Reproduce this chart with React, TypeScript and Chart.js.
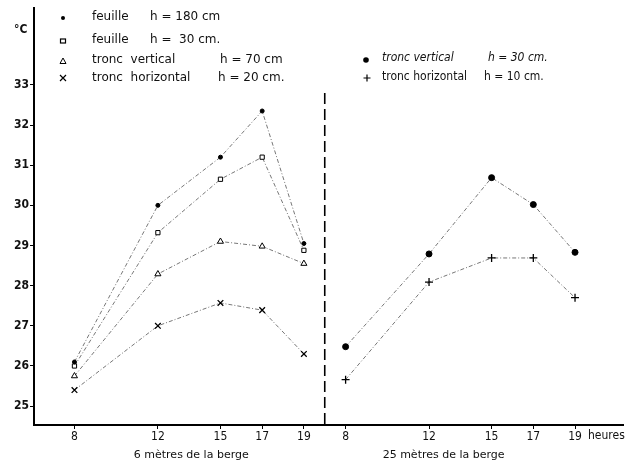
import React, { useEffect, useRef } from 'react';
import { Chart, registerables } from 'chart.js';

Chart.register(...registerables);

// hours of measurement
const hours = [8, 12, 15, 17, 19];
// offset used to place the second panel (25 m) on the shared horizontal axis
const rightOffset = 13;
const dividerAt = 20;

// 6 mètres de la berge
const feuille180 = [26.1, 30.0, 31.2, 32.35, 29.05];
const feuille30 = [26.0, 29.32, 30.65, 31.2, 28.88];
const troncVertical70 = [25.75, 28.29, 29.1, 28.98, 28.55];
const troncHorizontal20 = [25.4, 27.0, 27.57, 27.39, 26.3];

// 25 mètres de la berge
const troncVertical30 = [26.48, 28.79, 30.69, 30.02, 28.83];
const troncHorizontal10 = [25.66, 28.09, 28.69, 28.69, 27.7];

const yTicks = [25, 26, 27, 28, 29, 30, 31, 32, 33];

const FONT = '"DejaVu Sans Condensed", "DejaVu Sans", sans-serif';
const FONT_W = '"DejaVu Sans", sans-serif';

const toPts = (vals: number[], off: number) => vals.map((v, i) => ({ x: hours[i] + off, y: v }));

const lineStyle = {
  borderColor: '#777',
  borderWidth: 1,
  borderDash: [4, 2, 1, 2],
  pointBorderColor: '#000',
  pointBorderWidth: 1,
  showLine: true,
  fill: false,
  tension: 0,
};

export default function App() {
  const ref = useRef<HTMLCanvasElement | null>(null);

  useEffect(() => {
    document.body.style.margin = '0';
    const canvas = ref.current;
    if (!canvas) return;

    const overlay = {
      id: 'overlay',
      afterDraw(chart: any) {
        const ctx = chart.ctx;
        const xs = chart.scales.x;
        const ys = chart.scales.y;
        const area = chart.chartArea;
        ctx.save();
        // divider
        const dx = xs.getPixelForValue(dividerAt);
        ctx.strokeStyle = '#000';
        ctx.lineWidth = 1.6;
        ctx.setLineDash([11, 5]);
        ctx.beginPath();
        ctx.moveTo(dx, ys.getPixelForValue(32.8));
        ctx.lineTo(dx, area.bottom);
        ctx.stroke();
        ctx.setLineDash([]);

        ctx.fillStyle = '#111';
        ctx.textBaseline = 'middle';
        // unit
        ctx.font = `bold 12px ${FONT}`;
        ctx.textAlign = 'left';
        ctx.fillText('°C', 14, 30);

        // panel titles
        ctx.font = `11px ${FONT_W}`;
        ctx.textAlign = 'center';
        ctx.fillText('6 mètres de la berge', xs.getPixelForValue(13.6), 455);
        ctx.fillText('25 mètres de la berge', xs.getPixelForValue(25.7), 455);
        ctx.textAlign = 'left';
        ctx.font = `12px ${FONT}`;
        ctx.fillText('heures', xs.getPixelForValue(19 + rightOffset) + 13, 436);

        // markers
        const dot = (x: number, y: number, r: number) => {
          ctx.beginPath();
          ctx.arc(x, y, r, 0, Math.PI * 2);
          ctx.fillStyle = '#000';
          ctx.fill();
        };
        const square = (x: number, y: number) => {
          ctx.strokeStyle = '#000';
          ctx.lineWidth = 1.2;
          ctx.strokeRect(x - 2.5, y - 2, 5, 4);
        };
        const tri = (x: number, y: number) => {
          ctx.strokeStyle = '#000';
          ctx.lineWidth = 1;
          ctx.beginPath();
          ctx.moveTo(x, y - 3);
          ctx.lineTo(x + 3, y + 2.5);
          ctx.lineTo(x - 3, y + 2.5);
          ctx.closePath();
          ctx.stroke();
        };
        const xmark = (x: number, y: number) => {
          ctx.strokeStyle = '#000';
          ctx.lineWidth = 1.2;
          ctx.beginPath();
          ctx.moveTo(x - 3, y - 3);
          ctx.lineTo(x + 3, y + 3);
          ctx.moveTo(x + 3, y - 3);
          ctx.lineTo(x - 3, y + 3);
          ctx.stroke();
        };
        const plus = (x: number, y: number) => {
          ctx.strokeStyle = '#000';
          ctx.lineWidth = 1.2;
          ctx.beginPath();
          ctx.moveTo(x - 3.5, y);
          ctx.lineTo(x + 3.5, y);
          ctx.moveTo(x, y - 3.5);
          ctx.lineTo(x, y + 3.5);
          ctx.stroke();
        };

        // left legend
        const leftRows: [string, string, number, number][] = [
          ['feuille', 'h = 180 cm', 150, 17],
          ['feuille', 'h =  30 cm.', 150, 40],
          ['tronc  vertical', 'h = 70 cm', 220, 60],
          ['tronc  horizontal', 'h = 20 cm.', 218, 78],
        ];
        dot(63, 18, 2);
        square(63, 41);
        tri(63, 61);
        xmark(63, 78);
        ctx.fillStyle = '#111';
        ctx.font = `12px ${FONT_W}`;
        ctx.textAlign = 'left';
        leftRows.forEach(([a, b, hx, y]) => {
          ctx.fillText(a, 92, y);
          ctx.fillText(b, hx, y);
        });

        // right legend
        dot(366, 60, 2.8);
        plus(367, 78);
        ctx.fillStyle = '#111';
        ctx.font = `italic 12px ${FONT}`;
        ctx.fillText('tronc vertical', 382, 58);
        ctx.fillText('h = 30 cm.', 488, 58);
        ctx.font = `12px ${FONT}`;
        ctx.fillText('tronc horizontal', 382, 77);
        ctx.fillText('h = 10 cm.', 484, 77);
        ctx.restore();
      },
    };

    const chart = new Chart(canvas, {
      type: 'scatter',
      data: {
        datasets: [
          { ...lineStyle, label: 'feuille h = 180 cm', data: toPts(feuille180, 0), pointStyle: 'circle', pointRadius: 2, pointBackgroundColor: '#000' },
          { ...lineStyle, label: 'feuille h = 30 cm.', data: toPts(feuille30, 0), pointStyle: 'rect', pointRadius: 3, pointBackgroundColor: '#fff' },
          { ...lineStyle, label: 'tronc vertical h = 70 cm', data: toPts(troncVertical70, 0), pointStyle: 'triangle', pointRadius: 3.5, pointBackgroundColor: '#fff' },
          { ...lineStyle, label: 'tronc horizontal h = 20 cm.', data: toPts(troncHorizontal20, 0), pointStyle: 'crossRot', pointRadius: 4, pointBorderWidth: 1.3 },
          { ...lineStyle, label: 'tronc vertical h = 30 cm.', data: toPts(troncVertical30, rightOffset), pointStyle: 'circle', pointRadius: 3, pointBackgroundColor: '#000' },
          { ...lineStyle, label: 'tronc horizontal h = 10 cm.', data: toPts(troncHorizontal10, rightOffset), pointStyle: 'cross', pointRadius: 4, pointBorderWidth: 1.3 },
        ] as any,
      },
      options: {
        responsive: false,
        animation: false,
        devicePixelRatio: 1,
        layout: { padding: { top: 5, right: 18, left: 0, bottom: 0 } },
        plugins: { legend: { display: false }, tooltip: { enabled: false } },
        scales: {
          x: {
            type: 'linear',
            min: 6.06,
            max: 34.3,
            border: { display: true, color: '#000', width: 2 },
            grid: { drawOnChartArea: false, drawTicks: true, tickLength: 4, color: '#000' },
            afterBuildTicks: (s: any) => {
              s.ticks = [...hours, ...hours.map((h) => h + rightOffset)].map((v) => ({ value: v }));
            },
            afterFit: (s: any) => {
              s.height = 39;
            },
            ticks: {
              color: '#111',
              font: { family: FONT, size: 12 },
              padding: 1,
              maxRotation: 0,
              autoSkip: false,
              callback: (v: any) => String(v > dividerAt ? v - rightOffset : v),
            },
          },
          y: {
            type: 'linear',
            min: 24.53,
            max: 34.91,
            border: { display: true, color: '#000', width: 2 },
            grid: { drawOnChartArea: false, drawTicks: true, tickLength: 4, color: '#000' },
            afterBuildTicks: (s: any) => {
              s.ticks = yTicks.map((v) => ({ value: v }));
            },
            afterFit: (s: any) => {
              s.width = 34;
            },
            ticks: {
              color: '#111',
              font: { family: FONT, size: 12, weight: 'bold' },
              padding: 1,
              callback: (v: any) => String(v),
            },
          },
        },
      },
      plugins: [overlay],
    });

    return () => chart.destroy();
  }, []);

  return (
    <div style={{ width: 641, height: 464, background: '#fff' }}>
      <canvas ref={ref} width={641} height={464} />
    </div>
  );
}
